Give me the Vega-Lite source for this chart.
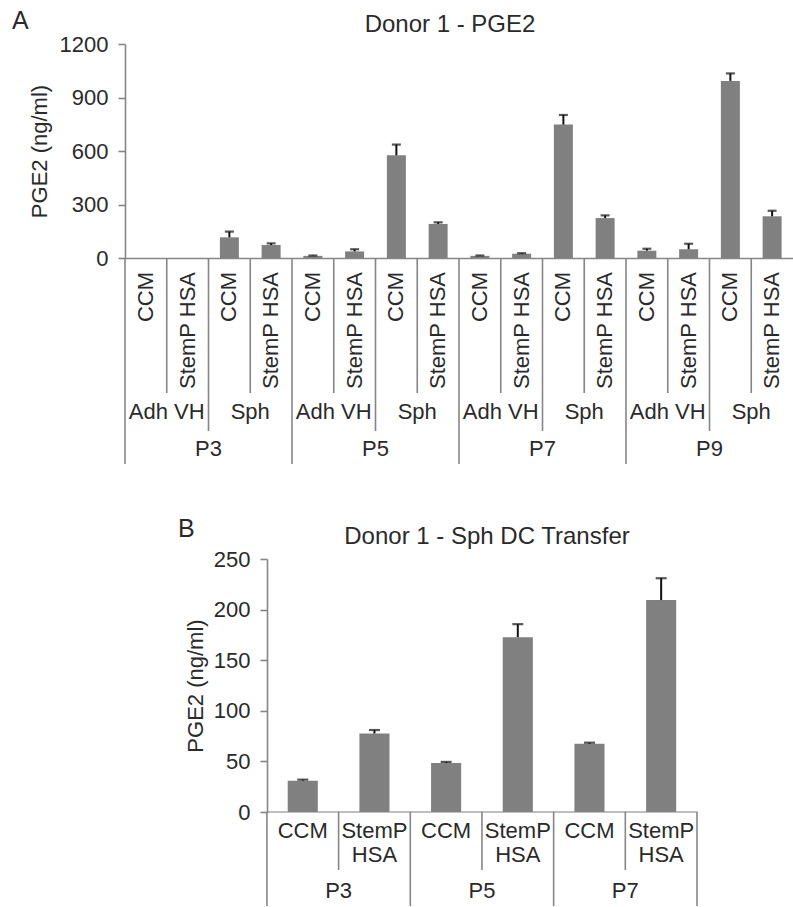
{
  "$schema": "https://vega.github.io/schema/vega-lite/v6.json",
  "padding": {"left": 12, "top": 9, "right": 0, "bottom": 0},
  "background": "white",
  "config": {
    "font": "Liberation Sans",
    "view": {"stroke": null},
    "axis": {"labelFont": "Liberation Sans", "titleFont": "Liberation Sans", "labelColor": "#2a2a2a", "titleColor": "#2a2a2a", "domainColor": "#868686", "tickColor": "#868686", "domainWidth": 1.6, "tickWidth": 1.6, "grid": false, "titleFontWeight": "normal"},
    "title": {"font": "Liberation Sans", "fontWeight": "normal", "color": "#2a2a2a"},
    "text": {"font": "Liberation Sans", "color": "#2a2a2a"}
  },
  "datasets": {
    "a": [
      {"id": "P3 Adh CCM", "sample": "CCM", "value": null, "upper": null, "edge": 3},
      {"id": "P3 Adh StemP", "sample": "StemP HSA", "value": null, "upper": null, "edge": 1},
      {"id": "P3 Sph CCM", "sample": "CCM", "value": 116, "upper": 148, "edge": 2},
      {"id": "P3 Sph StemP", "sample": "StemP HSA", "value": 73, "upper": 82, "edge": 1},
      {"id": "P5 Adh CCM", "sample": "CCM", "value": 12, "upper": 14, "edge": 3},
      {"id": "P5 Adh StemP", "sample": "StemP HSA", "value": 37, "upper": 49, "edge": 1},
      {"id": "P5 Sph CCM", "sample": "CCM", "value": 576, "upper": 636, "edge": 2},
      {"id": "P5 Sph StemP", "sample": "StemP HSA", "value": 191, "upper": 200, "edge": 1},
      {"id": "P7 Adh CCM", "sample": "CCM", "value": 12, "upper": 14, "edge": 3},
      {"id": "P7 Adh StemP", "sample": "StemP HSA", "value": 24, "upper": 27, "edge": 1},
      {"id": "P7 Sph CCM", "sample": "CCM", "value": 748, "upper": 802, "edge": 2},
      {"id": "P7 Sph StemP", "sample": "StemP HSA", "value": 224, "upper": 239, "edge": 1},
      {"id": "P9 Adh CCM", "sample": "CCM", "value": 41, "upper": 52, "edge": 3},
      {"id": "P9 Adh StemP", "sample": "StemP HSA", "value": 49, "upper": 80, "edge": 1},
      {"id": "P9 Sph CCM", "sample": "CCM", "value": 993, "upper": 1035, "edge": 2},
      {"id": "P9 Sph StemP", "sample": "StemP HSA", "value": 234, "upper": 265, "edge": 1}
    ],
    "aGroups": [
      {"id": "P3 Adh StemP", "label": "Adh VH"},
      {"id": "P3 Sph StemP", "label": "Sph"},
      {"id": "P5 Adh StemP", "label": "Adh VH"},
      {"id": "P5 Sph StemP", "label": "Sph"},
      {"id": "P7 Adh StemP", "label": "Adh VH"},
      {"id": "P7 Sph StemP", "label": "Sph"},
      {"id": "P9 Adh StemP", "label": "Adh VH"},
      {"id": "P9 Sph StemP", "label": "Sph"}
    ],
    "aPassages": [
      {"id": "P3 Sph CCM", "label": "P3"},
      {"id": "P5 Sph CCM", "label": "P5"},
      {"id": "P7 Sph CCM", "label": "P7"},
      {"id": "P9 Sph CCM", "label": "P9"}
    ],
    "b": [
      {"id": "P3 CCM", "sample": "CCM", "value": 31, "upper": 32, "edge": 2},
      {"id": "P3 StemP", "sample": "StemP\nHSA", "value": 77.6, "upper": 81, "edge": 1},
      {"id": "P5 CCM", "sample": "CCM", "value": 48.5, "upper": 49.5, "edge": 2},
      {"id": "P5 StemP", "sample": "StemP\nHSA", "value": 172.7, "upper": 185.6, "edge": 1},
      {"id": "P7 CCM", "sample": "CCM", "value": 67.4, "upper": 68.5, "edge": 2},
      {"id": "P7 StemP", "sample": "StemP\nHSA", "value": 209.4, "upper": 231, "edge": 1}
    ],
    "bPassages": [
      {"id": "P3 StemP", "label": "P3"},
      {"id": "P5 StemP", "label": "P5"},
      {"id": "P7 StemP", "label": "P7"}
    ],
    "bEnd": [
      {"id": "P7 StemP", "edge": 2}
    ]
  },
  "spacing": 52,
  "vconcat": [
    {
      "title": {"text": "A", "anchor": "start", "frame": "bounds", "fontSize": 25, "dx": -16, "offset": -21},
      "spacing": 0,
      "bounds": "flush",
      "vconcat": [
        {
          "width": 668,
          "height": 214,
          "title": {"text": "Donor 1 - PGE2", "fontSize": 24, "offset": -4, "dx": -9},
          "data": {"name": "a"},
          "encoding": {
            "x": {"field": "id", "type": "nominal", "sort": null,
                  "scale": {"domain": ["P3 Adh CCM","P3 Adh StemP","P3 Sph CCM","P3 Sph StemP","P5 Adh CCM","P5 Adh StemP","P5 Sph CCM","P5 Sph StemP","P7 Adh CCM","P7 Adh StemP","P7 Sph CCM","P7 Sph StemP","P9 Adh CCM","P9 Adh StemP","P9 Sph CCM","P9 Sph StemP"], "paddingInner": 0, "paddingOuter": 0},
                  "axis": {"labels": false, "ticks": false, "title": null, "domain": true}}
          },
          "layer": [
            {
              "mark": {"type": "bar", "color": "#808080", "width": {"band": 0.455}},
              "encoding": {
                "y": {"field": "value", "type": "quantitative",
                      "scale": {"domain": [0, 1200], "nice": false},
                      "axis": {"title": "PGE2 (ng/ml)", "values": [0, 300, 600, 900, 1200], "format": "d", "labelFontSize": 22, "titleFontSize": 22, "tickSize": 7, "labelPadding": 10, "titlePadding": 8}}
              }
            },
            {
              "mark": {"type": "rule", "color": "#111111", "strokeWidth": 2},
              "encoding": {"y": {"field": "value", "type": "quantitative"}, "y2": {"field": "upper"}}
            },
            {
              "mark": {"type": "tick", "color": "#111111", "thickness": 2.2, "size": 9},
              "encoding": {"y": {"field": "upper", "type": "quantitative"}}
            }
          ]
        },
        {
          "width": 668,
          "height": 206,
          "layer": [
            {
              "data": {"name": "a"},
              "mark": {"type": "rule", "color": "#868686", "strokeWidth": 1.6},
              "encoding": {
                "x": {"field": "id", "type": "nominal", "sort": null, "bandPosition": 0,
                      "scale": {"domain": ["P3 Adh CCM","P3 Adh StemP","P3 Sph CCM","P3 Sph StemP","P5 Adh CCM","P5 Adh StemP","P5 Sph CCM","P5 Sph StemP","P7 Adh CCM","P7 Adh StemP","P7 Sph CCM","P7 Sph StemP","P9 Adh CCM","P9 Adh StemP","P9 Sph CCM","P9 Sph StemP"], "paddingInner": 0, "paddingOuter": 0},
                      "axis": null},
                "y": {"field": "edge", "type": "quantitative", "scale": {"domain": [0, 1, 2, 3], "range": [0, 135, 173, 206], "zero": false, "nice": false}, "axis": null},
                "y2": {"datum": 0}
              }
            },
            {
              "data": {"name": "a"},
              "mark": {"type": "text", "angle": 270, "align": "right", "baseline": "middle", "dx": -14, "fontSize": 22},
              "encoding": {
                "x": {"field": "id", "type": "nominal", "sort": null, "axis": null},
                "y": {"datum": 0, "type": "quantitative"},
                "text": {"field": "sample"}
              }
            },
            {
              "data": {"name": "aGroups"},
              "mark": {"type": "text", "align": "center", "baseline": "middle", "fontSize": 22},
              "encoding": {
                "x": {"field": "id", "type": "nominal", "sort": null, "bandPosition": 0, "axis": null},
                "y": {"datum": 1.5, "type": "quantitative"},
                "text": {"field": "label"}
              }
            },
            {
              "data": {"name": "aPassages"},
              "mark": {"type": "text", "align": "center", "baseline": "middle", "dy": 1, "fontSize": 22},
              "encoding": {
                "x": {"field": "id", "type": "nominal", "sort": null, "bandPosition": 0, "axis": null},
                "y": {"datum": 2.5, "type": "quantitative"},
                "text": {"field": "label"}
              }
            }
          ]
        }
      ]
    },
    {
      "title": {"text": "B", "anchor": "start", "frame": "bounds", "fontSize": 25, "dx": 53, "offset": -17},
      "spacing": 0,
      "bounds": "flush",
      "vconcat": [
        {
          "width": 572,
          "height": 253,
          "title": {"text": "Donor 1 - Sph DC Transfer", "fontSize": 24, "offset": -1, "dx": 76},
          "data": {"name": "b"},
          "encoding": {
            "x": {"field": "id", "type": "nominal", "sort": null,
                  "scale": {"domain": ["P3 CCM","P3 StemP","P5 CCM","P5 StemP","P7 CCM","P7 StemP"], "paddingInner": 0, "paddingOuter": 0.99, "align": 1},
                  "axis": null}
          },
          "layer": [
            {
              "mark": {"type": "bar", "color": "#808080", "width": {"band": 0.42}},
              "encoding": {
                "y": {"field": "value", "type": "quantitative",
                      "scale": {"domain": [0, 250], "nice": false},
                      "axis": {"title": "PGE2 (ng/ml)", "values": [0, 50, 100, 150, 200, 250], "labelFontSize": 22, "titleFontSize": 22, "tickSize": 7, "labelPadding": 10, "titlePadding": 6, "offset": -142}}
              }
            },
            {
              "mark": {"type": "rule", "color": "#111111", "strokeWidth": 2},
              "encoding": {"y": {"field": "value", "type": "quantitative"}, "y2": {"field": "upper"}}
            },
            {
              "mark": {"type": "tick", "color": "#111111", "thickness": 2.2, "size": 11},
              "encoding": {"y": {"field": "upper", "type": "quantitative"}}
            }
          ]
        },
        {
          "width": 572,
          "height": 94,
          "layer": [
            {
              "data": {"name": "b"},
              "mark": {"type": "rule", "color": "#868686", "strokeWidth": 1.6},
              "encoding": {
                "x": {"field": "id", "type": "nominal", "sort": null, "bandPosition": 0,
                      "scale": {"domain": ["P3 CCM","P3 StemP","P5 CCM","P5 StemP","P7 CCM","P7 StemP"], "paddingInner": 0, "paddingOuter": 0.99, "align": 1},
                      "axis": null},
                "y": {"field": "edge", "type": "quantitative", "scale": {"domain": [0, 1, 2], "range": [0, 58, 94], "zero": false, "nice": false}, "axis": null},
                "y2": {"datum": 0}
              }
            },
            {
              "data": {"name": "b"},
              "mark": {"type": "tick", "color": "#868686", "thickness": 1.6, "size": 72.5},
              "encoding": {
                "x": {"field": "id", "type": "nominal", "sort": null, "axis": null},
                "y": {"datum": 0, "type": "quantitative"}
              }
            },
            {
              "data": {"name": "bEnd"},
              "mark": {"type": "rule", "color": "#868686", "strokeWidth": 1.6},
              "encoding": {
                "x": {"field": "id", "type": "nominal", "sort": null, "bandPosition": 1, "axis": null},
                "y": {"field": "edge", "type": "quantitative"},
                "y2": {"datum": 0}
              }
            },
            {
              "data": {"name": "b"},
              "mark": {"type": "text", "align": "center", "baseline": "top", "dy": 9, "fontSize": 22, "lineBreak": "\n", "lineHeight": 24},
              "encoding": {
                "x": {"field": "id", "type": "nominal", "sort": null, "axis": null},
                "y": {"datum": 0, "type": "quantitative"},
                "text": {"field": "sample"}
              }
            },
            {
              "data": {"name": "bPassages"},
              "mark": {"type": "text", "align": "center", "baseline": "middle", "dy": 3, "fontSize": 22},
              "encoding": {
                "x": {"field": "id", "type": "nominal", "sort": null, "bandPosition": 0, "axis": null},
                "y": {"datum": 1.5, "type": "quantitative"},
                "text": {"field": "label"}
              }
            }
          ]
        }
      ]
    }
  ]
}
